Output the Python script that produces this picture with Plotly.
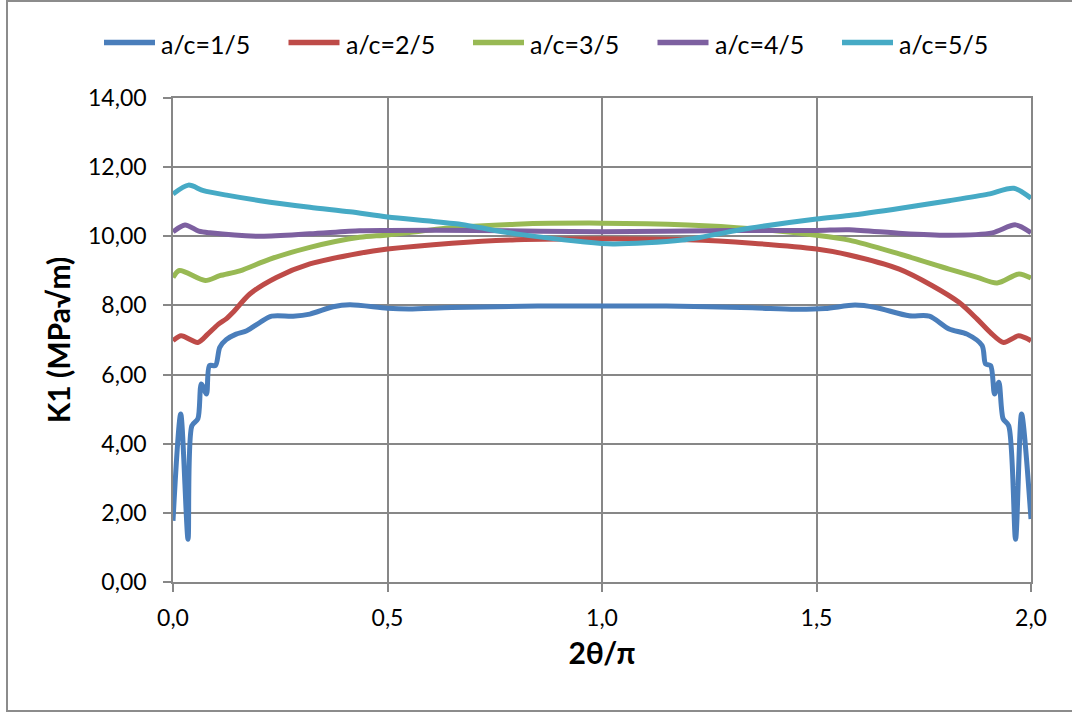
import plotly.graph_objects as go

# ---- data ----
names = ["a/c=1/5", "a/c=2/5", "a/c=3/5", "a/c=4/5", "a/c=5/5"]
colors = ["#4A7EBB", "#BE4B48", "#98B954", "#7D60A0", "#46AAC5"]

x_15 = [0.000, 0.018, 0.035, 0.044, 0.058, 0.066, 0.078, 0.085, 0.099, 0.109, 0.124, 0.147,
        0.172, 0.203, 0.230, 0.280, 0.319, 0.373, 0.412, 0.500, 0.550, 0.650, 0.850, 1.000,
        1.150, 1.350, 1.450, 1.520, 1.590, 1.638, 1.716, 1.763, 1.809, 1.851, 1.886, 1.894,
        1.906, 1.915, 1.925, 1.935, 1.948, 1.964, 1.978, 2.000]
k_15 = [1.77, 4.86, 1.24, 4.52, 4.72, 5.73, 5.44, 6.26, 6.26, 6.79, 7.01, 7.17,
        7.27, 7.51, 7.69, 7.69, 7.75, 7.96, 8.02, 7.92, 7.90, 7.94, 7.98, 7.98,
        7.98, 7.93, 7.89, 7.91, 8.01, 7.94, 7.70, 7.69, 7.32, 7.17, 6.84, 6.31,
        6.26, 5.44, 5.78, 4.72, 4.52, 1.24, 4.86, 1.82]

x_25 = [0.000, 0.019, 0.058, 0.081, 0.106, 0.124, 0.140, 0.179, 0.241, 0.319, 0.435, 0.500,
        0.650, 0.800, 1.000, 1.200, 1.350, 1.500, 1.576, 1.693, 1.770, 1.832, 1.874, 1.905,
        1.936, 1.971, 2.000]
k_25 = [6.98, 7.12, 6.93, 7.17, 7.46, 7.61, 7.80, 8.33, 8.81, 9.20, 9.51, 9.63,
        9.80, 9.90, 9.93, 9.90, 9.80, 9.63, 9.46, 9.05, 8.57, 8.09, 7.61, 7.22,
        6.93, 7.12, 6.98]

x_35 = [0.000, 0.015, 0.075, 0.109, 0.156, 0.226, 0.319, 0.435, 0.500, 0.650, 0.800, 1.000,
        1.200, 1.350, 1.500, 1.576, 1.693, 1.809, 1.875, 1.921, 1.972, 2.000]
k_35 = [8.81, 9.01, 8.72, 8.86, 9.00, 9.34, 9.68, 9.97, 10.04, 10.25, 10.35, 10.38,
        10.33, 10.22, 10.03, 9.89, 9.49, 9.05, 8.81, 8.65, 8.91, 8.79]

x_45 = [0.000, 0.028, 0.060, 0.086, 0.203, 0.319, 0.435, 0.500, 0.700, 1.000, 1.300, 1.500,
        1.576, 1.700, 1.809, 1.910, 1.964, 2.000]
k_45 = [10.13, 10.33, 10.15, 10.10, 10.00, 10.07, 10.16, 10.17, 10.17, 10.13, 10.17, 10.17,
        10.19, 10.08, 10.03, 10.10, 10.33, 10.10]

x_55 = [0.000, 0.036, 0.071, 0.125, 0.203, 0.319, 0.412, 0.500, 0.660, 0.800, 0.950, 1.025,
        1.187, 1.343, 1.500, 1.576, 1.700, 1.809, 1.900, 1.960, 2.000]
k_55 = [11.22, 11.48, 11.32, 11.19, 11.03, 10.84, 10.71, 10.56, 10.36, 10.07, 9.85, 9.78,
        9.89, 10.23, 10.50, 10.60, 10.82, 11.03, 11.22, 11.39, 11.10]

xs = [x_15, x_25, x_35, x_45, x_55]
ks = [k_15, k_25, k_35, k_45, k_55]

x_ticks = [0.0, 0.5, 1.0, 1.5, 2.0]
y_ticks = [0, 2, 4, 6, 8, 10, 12, 14]

FONT = "Lato, 'Open Sans', sans-serif"
GRID = "#878787"

# plot-area geometry (pixels) used to place the legend and the chart border
L, R, T, B = 173, 1031, 98, 582
PW, PH = R - L, B - T


def px_x(p):
    return (p - L) / PW


def px_y(p):
    return (B - p) / PH


fig = go.Figure()
for name, color, xv, kv in zip(names, colors, xs, ks):
    fig.add_trace(go.Scatter(
        x=xv, y=kv, name=name, mode="lines", showlegend=False,
        line=dict(color=color, width=5, shape="spline", smoothing=0.8),
    ))

# legend drawn as in the reference: long line sample followed by text
shapes = []
annotations = []
leg_y = 42.5
for i, (name, color) in enumerate(zip(names, colors)):
    x0 = 102 + i * 184.5
    shapes.append(dict(
        type="line", xref="paper", yref="paper",
        x0=px_x(x0 + 2), x1=px_x(x0 + 53), y0=px_y(leg_y), y1=px_y(leg_y),
        line=dict(color=color, width=5.5),
    ))
    annotations.append(dict(
        xref="paper", yref="paper", x=px_x(x0 + 57), y=px_y(leg_y + 1.5),
        xanchor="left", yanchor="middle", text=name, showarrow=False,
        font=dict(family=FONT, size=25, color="#000000"),
    ))

shapes.append(dict(
    type="rect", xref="paper", yref="paper",
    x0=px_x(7), x1=px_x(1080), y0=px_y(711), y1=px_y(1),
    line=dict(color="#8C8C8C", width=2), fillcolor="rgba(0,0,0,0)", layer="below",
))

fig.update_layout(
    width=1072, height=713,
    margin=dict(l=L, r=1072 - R, t=T, b=713 - B, autoexpand=False),
    paper_bgcolor="white", plot_bgcolor="white",
    separators=", ",
    font=dict(family=FONT, size=23, color="#000000"),
    showlegend=False,
    xaxis=dict(
        range=[0, 2], tickvals=x_ticks, tickformat=".1f",
        showgrid=True, gridcolor=GRID, gridwidth=1.6,
        showline=True, linecolor=GRID, linewidth=1.6, mirror=True,
        ticks="outside", ticklen=8, tickcolor=GRID, tickwidth=1.6,
        ticklabelstandoff=7, zeroline=False,
        title=dict(text="<b>2θ/π</b>", font=dict(family=FONT, size=30), standoff=13),
    ),
    yaxis=dict(
        range=[0, 14], tickvals=y_ticks, tickformat=".2f",
        showgrid=True, gridcolor=GRID, gridwidth=1.6,
        showline=True, linecolor=GRID, linewidth=1.6, mirror=True,
        ticks="outside", ticklen=8, tickcolor=GRID, tickwidth=1.6,
        ticklabelstandoff=12, zeroline=False,
        title=dict(text="<b>K1 (MPa√m)</b>", font=dict(family=FONT, size=30), standoff=9),
    ),
    shapes=shapes,
    annotations=annotations,
)

fig.write_html("out.html", config={"displayModeBar": False},
               post_script="document.body.style.margin='0px';")
